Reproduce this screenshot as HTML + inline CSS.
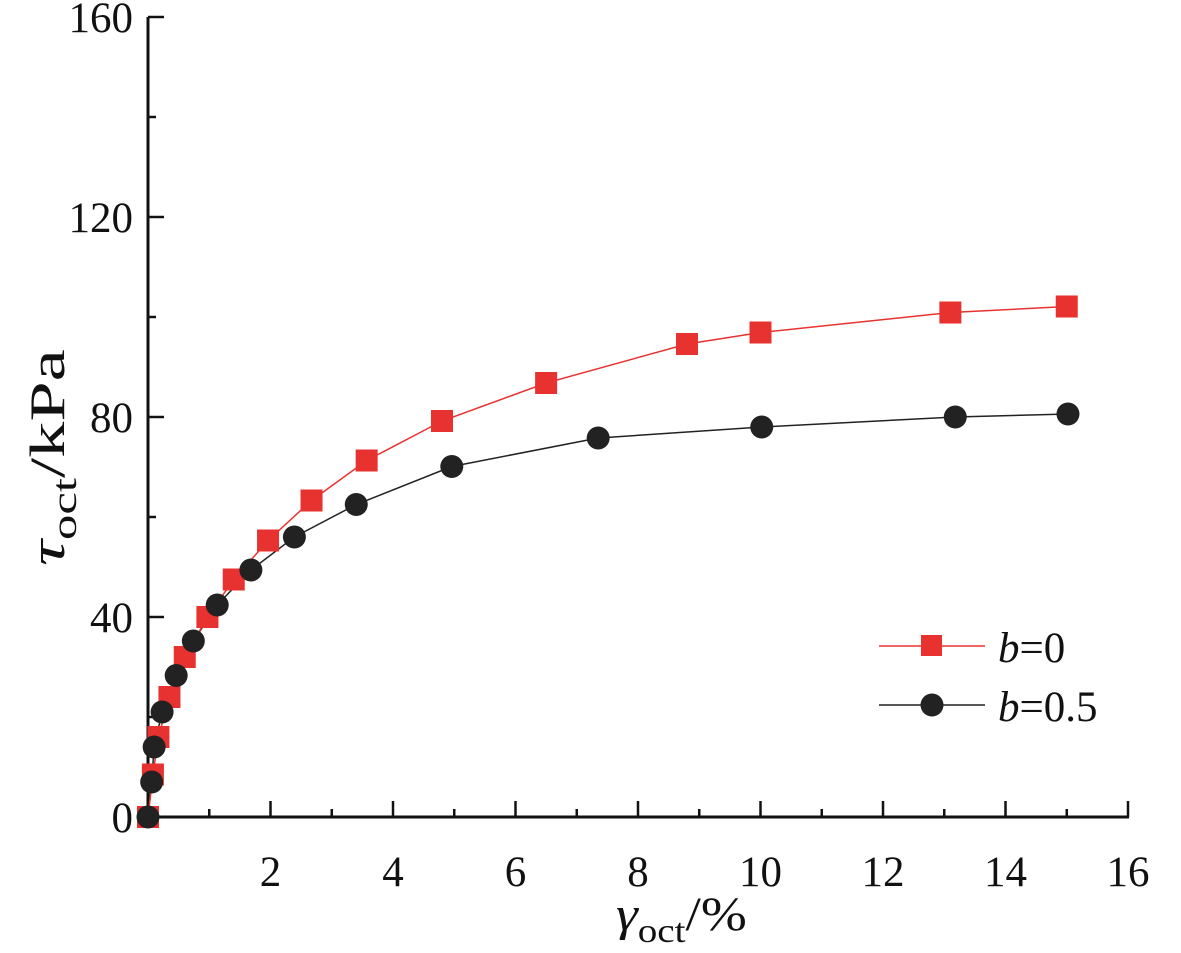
<!DOCTYPE html>
<html><head><meta charset="utf-8"><style>
body{margin:0;background:#fff}
svg text{font-family:"Liberation Serif",serif;fill:#111}
</style></head><body>
<svg width="1181" height="948" viewBox="0 0 1181 948" xmlns="http://www.w3.org/2000/svg">
<g id="axes"></g>
<g id="series"></g>
<g>
  <line x1="879" y1="646" x2="985" y2="646" stroke="#e8322f" stroke-width="1.5"/>
  <rect x="921" y="635" width="21" height="21" fill="#e8322f"/>
  <text x="998" y="662" font-size="43"><tspan font-style="italic">b</tspan>=0</text>
  <line x1="879" y1="705" x2="985" y2="705" stroke="#222" stroke-width="1.5"/>
  <circle cx="932" cy="705" r="11.5" fill="#222"/>
  <text x="998" y="721" font-size="43"><tspan font-style="italic">b</tspan>=0.5</text>
</g>
<text transform="translate(616,930) scale(1.15,1)" font-size="48"><tspan font-style="italic">γ</tspan><tspan font-size="34" dy="12">oct</tspan><tspan dy="-12">/%</tspan></text>
<text transform="translate(64,566) rotate(-90) scale(1.45,1)" font-size="50"><tspan font-style="italic">τ</tspan><tspan font-size="35" dy="12">oct</tspan><tspan dy="-12">/kPa</tspan></text>
</svg>
<script>
const xTicks=[2,4,6,8,10,12,14,16];
const yTicks=[0,40,80,120,160];
const xB0=[0,0.08,0.17,0.35,0.6,0.97,1.4,1.96,2.67,3.57,4.8,6.5,8.8,10.0,13.1,15.0];
const yB0=[0,8.5,16,24,32,40,47.5,55.3,63.3,71.3,79.2,86.8,94.6,96.9,100.9,102.1];
const xB05=[0,0.06,0.1,0.23,0.46,0.74,1.13,1.68,2.39,3.4,4.96,7.35,10.02,13.18,15.02];
const yB05=[0,7,14,21,28.3,35.2,42.4,49.4,56,62.5,70.1,75.8,78,80,80.6];
const X0=148,XS=61.25,Y0=817,YS=5;
const sx=v=>X0+v*XS, sy=v=>Y0-v*YS;
const NS="http://www.w3.org/2000/svg";
function mk(tag,attrs,parent){const e=document.createElementNS(NS,tag);for(const k in attrs)e.setAttribute(k,attrs[k]);parent.appendChild(e);return e;}
const ax=document.getElementById('axes');
let l=mk('line',{x1:X0,y1:Y0,x2:sx(16)+1,y2:Y0,stroke:'#111','stroke-width':3},ax);


l=mk('line',{x1:X0,y1:Y0+1.5,x2:X0,y2:sy(160),stroke:'#111','stroke-width':3},ax);


for(let v=1;v<=16;v++){const major=v%2===0;
  mk('line',{x1:sx(v),y1:Y0,x2:sx(v),y2:Y0-(major?16:8),stroke:'#111','stroke-width':2.5},ax);}
for(let v=20;v<=160;v+=20){const major=v%40===0;
  mk('line',{x1:X0,y1:sy(v),x2:X0+(major?16:8),y2:sy(v),stroke:'#111','stroke-width':2.5},ax);}
xTicks.forEach(v=>{const t=mk('text',{x:sx(v),y:886,'font-size':43,'text-anchor':'middle'},ax);t.textContent=v;
  
  });
yTicks.forEach(v=>{const t=mk('text',{x:133,y:sy(v)+15,'font-size':43,'text-anchor':'end'},ax);t.textContent=v;
  
  });
const sg=document.getElementById('series');
let p=mk('polyline',{points:xB05.map((x,i)=>sx(x)+','+sy(yB05[i])).join(' '),fill:'none',stroke:'#222','stroke-width':1.5},sg);


p=mk('polyline',{points:xB0.map((x,i)=>sx(x)+','+sy(yB0[i])).join(' '),fill:'none',stroke:'#e8322f','stroke-width':1.5},sg);


xB0.forEach((x,i)=>{const r=mk('rect',{x:sx(x)-11,y:sy(yB0[i])-11,width:22,height:22,fill:'#e8322f'},sg);
  
  });
xB05.forEach((x,i)=>{const c=mk('circle',{cx:sx(x),cy:sy(yB05[i]),r:11.5,fill:'#222'},sg);
  
  });
</script>
</body></html>
